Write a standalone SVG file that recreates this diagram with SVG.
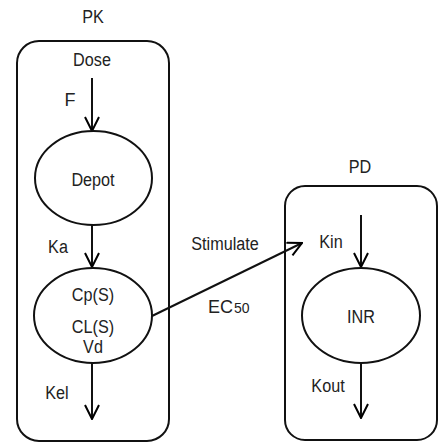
<svg xmlns="http://www.w3.org/2000/svg" width="438" height="444" viewBox="0 0 438 444">
<defs>
<marker id="arr" viewBox="0 0 16 16" refX="15" refY="8" markerWidth="16" markerHeight="16" markerUnits="userSpaceOnUse" orient="auto">
<path d="M1,1 L15,8 L1,15" fill="none" stroke="#000" stroke-width="2"/>
</marker>
<style>
text{font-family:"Liberation Sans",Arial,sans-serif;font-size:18px;fill:#222;text-anchor:middle}
.box{fill:none;stroke:#111;stroke-width:2}
.ell{fill:#fff;stroke:#111;stroke-width:2}
.c{stroke:#111;stroke-width:2;fill:none;marker-end:url(#arr)}
</style>
</defs>
<rect width="438" height="444" fill="#fff"/>
<g id="pk">
<rect class="box" x="17" y="41" width="152" height="400" rx="22"/>
<text x="93" y="23" textLength="21.6" lengthAdjust="spacingAndGlyphs">PK</text>
<text x="92" y="66" textLength="37.8" lengthAdjust="spacingAndGlyphs">Dose</text>
</g>
<g id="pd">
<rect class="box" x="285" y="186" width="152" height="254" rx="20"/>
<text x="360" y="173" textLength="22.5" lengthAdjust="spacingAndGlyphs">PD</text>
</g>
<g id="connectors">
<line class="c" x1="92" y1="78" x2="92" y2="131"/>
<line class="c" x1="92" y1="225" x2="92" y2="267"/>
<line class="c" x1="92" y1="363" x2="92" y2="419"/>
<line class="c" x1="152" y1="316" x2="302" y2="243"/>
<line class="c" x1="361" y1="215" x2="361" y2="267"/>
<line class="c" x1="361" y1="363" x2="361" y2="418"/>
<text x="70" y="106" textLength="11" lengthAdjust="spacingAndGlyphs">F</text>
<text x="58" y="253" textLength="19.8" lengthAdjust="spacingAndGlyphs">Ka</text>
<text x="57" y="399" textLength="23.4" lengthAdjust="spacingAndGlyphs">Kel</text>
<text x="225" y="250" textLength="67.5" lengthAdjust="spacingAndGlyphs">Stimulate</text>
<text x="208" y="313" style="text-anchor:start">EC<tspan dx="1" style="font-size:14px">50</tspan></text>
<text x="331" y="248" textLength="23.4" lengthAdjust="spacingAndGlyphs">Kin</text>
<text x="328" y="392" textLength="33.3" lengthAdjust="spacingAndGlyphs">Kout</text>
</g>
<g id="depot">
<ellipse class="ell" cx="93.5" cy="178" rx="58.5" ry="47"/>
<text x="93" y="186" textLength="43.2" lengthAdjust="spacingAndGlyphs">Depot</text>
</g>
<g id="central">
<ellipse class="ell" cx="93" cy="315.5" rx="59" ry="47.5"/>
<text x="93" y="301" textLength="42.3" lengthAdjust="spacingAndGlyphs">Cp(S)</text>
<text x="93" y="333" textLength="42.3" lengthAdjust="spacingAndGlyphs">CL(S)</text>
<text x="93" y="353" textLength="19.8" lengthAdjust="spacingAndGlyphs">Vd</text>
</g>
<g id="inr">
<ellipse class="ell" cx="361" cy="315.5" rx="59" ry="47.5"/>
<text x="361" y="323" textLength="27.9" lengthAdjust="spacingAndGlyphs">INR</text>
</g>
</svg>
